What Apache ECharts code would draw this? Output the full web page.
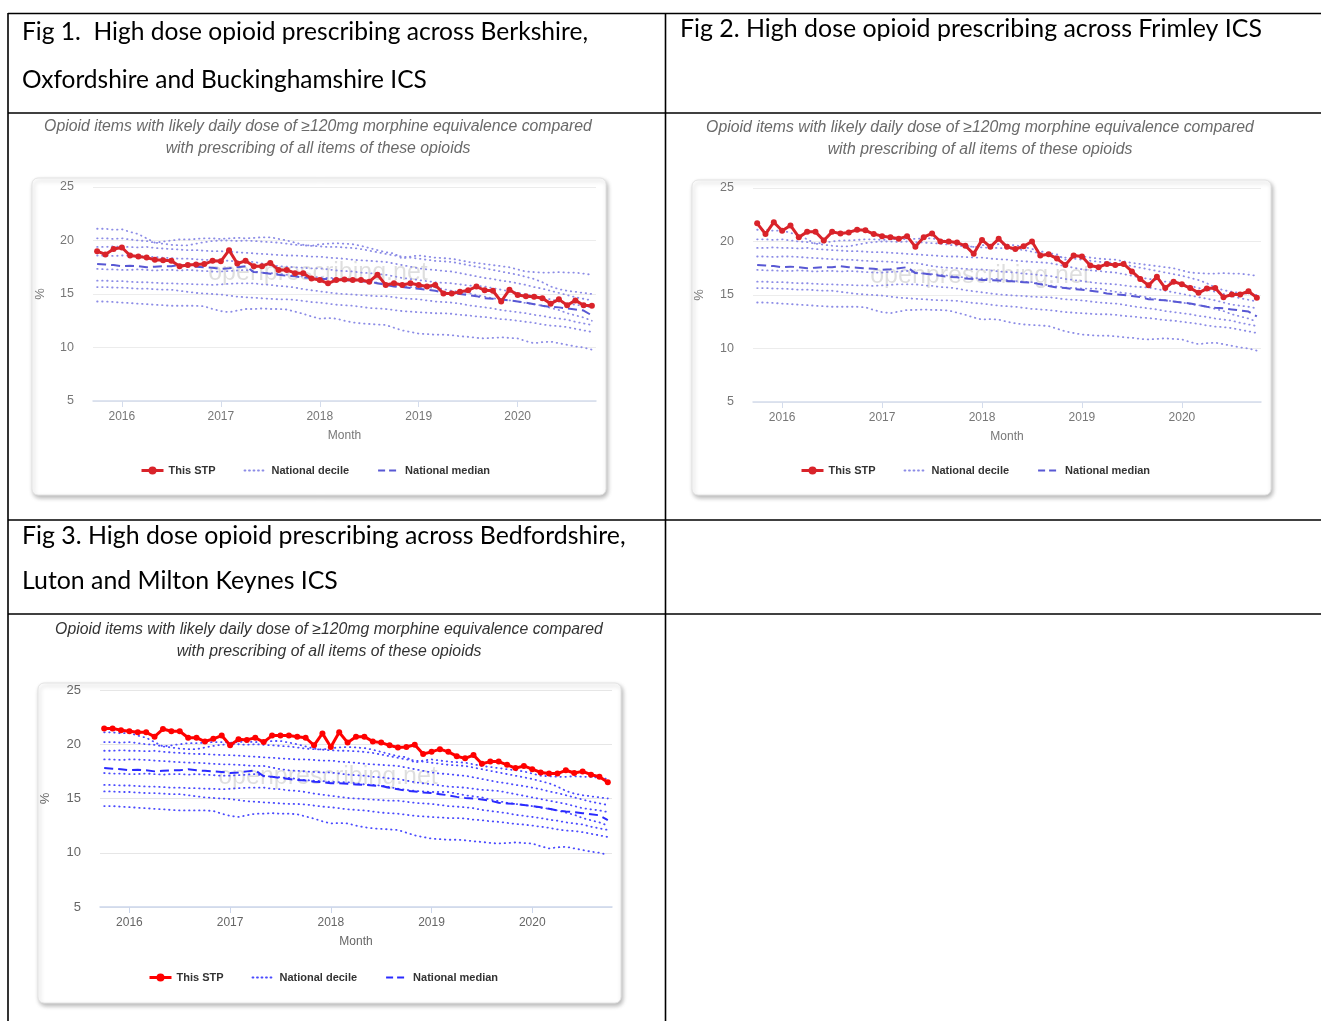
<!DOCTYPE html>
<html>
<head>
<meta charset="utf-8">
<script src="https://cdn.jsdelivr.net/npm/echarts@6/dist/echarts.min.js"></script>
<style>
html,body{margin:0;padding:0;background:#fff;}
#main{width:1321px;height:1021px;}
</style>
</head>
<body>
<div id="main"></div>
<script>
// ---------- DATA ----------
const months = ['2015-10','2015-11','2015-12',
'2016-01','2016-02','2016-03','2016-04','2016-05','2016-06','2016-07','2016-08','2016-09','2016-10','2016-11','2016-12',
'2017-01','2017-02','2017-03','2017-04','2017-05','2017-06','2017-07','2017-08','2017-09','2017-10','2017-11','2017-12',
'2018-01','2018-02','2018-03','2018-04','2018-05','2018-06','2018-07','2018-08','2018-09','2018-10','2018-11','2018-12',
'2019-01','2019-02','2019-03','2019-04','2019-05','2019-06','2019-07','2019-08','2019-09','2019-10','2019-11','2019-12',
'2020-01','2020-02','2020-03','2020-04','2020-05','2020-06','2020-07','2020-08','2020-09','2020-10'];
const yearLabels = ['2016','2017','2018','2019','2020'];

// This STP (% of opioid items at >=120mg MME)
const stpBOB = [19.0,18.7,19.2,19.35,18.6,18.5,18.4,18.2,18.15,18.1,17.6,17.7,17.75,17.8,18.1,18.05,19.1,17.85,18.1,17.6,17.6,17.9,17.25,17.25,16.95,16.95,16.45,16.3,16.0,16.3,16.35,16.3,16.3,16.15,16.8,15.85,16.0,15.85,16.0,15.85,15.7,15.85,15.05,15.05,15.2,15.35,15.7,15.35,15.3,14.3,15.4,14.9,14.8,14.75,14.6,14.1,14.5,13.95,14.4,13.95,13.9];
const stpFrimley = [21.7,20.7,21.8,21.0,21.5,20.4,20.9,20.9,20.1,20.9,20.75,20.85,21.1,21.05,20.7,20.5,20.4,20.25,20.5,19.5,20.4,20.75,20.0,20.0,19.9,19.6,18.85,20.15,19.5,20.25,19.5,19.3,19.55,20.0,18.7,18.8,18.4,17.8,18.7,18.6,17.75,17.6,17.9,17.8,17.9,17.2,16.5,15.9,16.7,15.65,16.25,16.0,15.65,15.2,15.6,15.65,14.8,15.05,15.05,15.35,14.75];
const stpBLMK = [21.46,21.46,21.3,21.2,21.1,21.1,20.7,21.4,21.2,21.2,20.6,20.6,20.25,20.5,20.8,19.9,20.45,20.4,20.6,20.2,20.8,20.8,20.8,20.7,20.6,19.9,21.0,19.75,21.1,20.15,20.7,20.7,20.25,20.15,19.9,19.7,19.75,19.95,19.1,19.3,19.55,19.3,18.9,18.7,19.0,18.2,18.4,18.4,18.1,17.8,18.0,17.7,17.4,17.3,17.3,17.6,17.35,17.5,17.2,17.0,16.5];

// National deciles and median
const nationalMedian = [17.8,17.75,17.7,17.6,17.65,17.6,17.5,17.55,17.6,17.6,17.7,17.6,17.55,17.5,17.45,17.35,17.4,17.5,17.6,17.05,17.0,16.9,16.8,16.7,16.65,16.55,16.5,16.4,16.4,16.35,16.3,16.25,16.2,16.15,16.0,15.85,15.7,15.65,15.55,15.5,15.4,15.3,15.15,15.05,15.0,14.9,14.8,14.6,14.55,14.5,14.4,14.3,14.2,14.05,13.9,13.8,13.75,13.65,13.55,13.45,13.0];
const decile90 = [21.1,21.1,21.0,21.05,20.8,20.6,20.2,19.8,19.9,20.0,20.1,20.1,20.15,20.2,20.2,20.15,20.2,20.25,20.2,20.25,20.3,20.3,20.15,20.0,19.8,19.6,19.5,19.65,19.7,19.75,19.7,19.65,19.5,19.3,19.1,18.9,18.8,18.3,18.5,18.6,18.5,18.4,18.35,18.3,18.15,18.0,17.9,17.8,17.7,17.6,17.5,17.3,17.1,17.05,17.0,17.0,17.05,17.0,17.0,16.9,16.8];
const decile80 = [20.2,20.2,20.15,20.2,20.1,20.0,19.95,19.8,19.7,19.6,19.55,19.55,19.7,19.85,19.95,20.0,20.0,19.95,20.0,19.95,19.9,19.85,19.8,19.7,19.6,19.55,19.5,19.45,19.4,19.4,19.35,19.3,19.2,19.05,18.9,18.75,18.6,18.5,18.4,18.3,18.2,18.1,18.05,18.0,17.85,17.7,17.55,17.4,17.25,17.1,16.95,16.8,16.6,16.4,16.1,15.7,15.45,15.3,15.2,15.1,15.0];
const decile70 = [19.4,19.4,19.45,19.4,19.4,19.35,19.4,19.3,19.25,19.2,19.15,19.1,19.1,19.05,19.0,19.0,18.95,18.9,18.85,18.8,18.75,18.7,18.65,18.6,18.6,18.55,18.5,18.5,18.4,18.35,18.3,18.2,18.15,18.1,18.05,18.0,17.85,17.7,17.55,17.4,17.3,17.25,17.15,17.1,16.95,16.8,16.65,16.5,16.4,16.25,16.15,16.0,15.85,15.65,15.5,15.3,15.1,14.9,14.7,14.55,14.4];
const decile60 = [18.6,18.6,18.55,18.6,18.6,18.55,18.5,18.45,18.4,18.35,18.3,18.3,18.25,18.2,18.15,18.15,18.1,18.05,18.0,18.0,17.85,17.7,17.6,17.55,17.5,17.45,17.4,17.4,17.3,17.2,17.15,17.1,17.0,16.95,16.85,16.8,16.65,16.5,16.4,16.3,16.2,16.1,16.05,16.0,15.9,15.8,15.75,15.7,15.55,15.4,15.25,15.1,14.95,14.8,14.65,14.5,14.3,14.1,14.0,13.9,13.75];
const decile40 = [17.35,17.3,17.3,17.25,17.25,17.3,17.25,17.2,17.25,17.25,17.2,17.25,17.2,17.15,17.1,17.1,17.15,17.2,17.25,17.1,17.0,16.95,16.9,16.8,16.7,16.65,16.6,16.55,16.5,16.5,16.4,16.3,16.25,16.2,16.05,15.9,15.8,15.7,15.65,15.6,15.6,15.6,15.45,15.3,15.2,15.1,14.9,14.75,14.6,14.5,14.4,14.3,14.15,14.05,13.9,13.7,13.5,13.2,13.0,12.8,12.5];
const decile30 = [16.25,16.25,16.2,16.2,16.15,16.1,16.1,16.05,16.0,16.0,15.95,15.95,15.9,15.9,15.85,15.9,15.95,16.0,16.0,16.0,15.9,15.85,15.75,15.7,15.6,15.45,15.35,15.25,15.15,15.05,15.0,14.95,14.9,14.85,14.8,14.8,14.7,14.6,14.55,14.5,14.4,14.3,14.25,14.2,14.1,13.95,13.85,13.75,13.65,13.5,13.4,13.3,13.2,13.05,12.95,12.8,12.7,12.6,12.4,12.25,12.1];
const decile20 = [15.65,15.65,15.6,15.6,15.55,15.5,15.5,15.45,15.4,15.4,15.3,15.2,15.1,15.05,15.0,14.95,14.85,14.75,14.7,14.65,14.6,14.55,14.5,14.5,14.45,14.35,14.25,14.2,14.1,14.0,13.95,13.9,13.8,13.7,13.65,13.6,13.5,13.4,13.35,13.3,13.25,13.2,13.2,13.15,13.05,13.0,12.9,12.85,12.75,12.65,12.6,12.5,12.4,12.3,12.15,12.05,12.0,11.9,11.75,11.6,11.45];
const decile10 = [14.3,14.3,14.25,14.2,14.15,14.1,14.05,14.0,13.95,13.9,13.9,13.9,13.9,13.85,13.6,13.4,13.3,13.45,13.6,13.6,13.65,13.6,13.6,13.55,13.35,13.15,12.9,12.7,12.75,12.7,12.5,12.35,12.25,12.2,12.15,12.1,11.85,11.6,11.45,11.3,11.25,11.2,11.2,11.15,11.05,11.0,10.9,10.85,10.9,10.95,10.9,10.85,10.6,10.4,10.5,10.55,10.4,10.25,10.1,10.0,9.8];
const deciles = [decile10, decile20, decile30, decile40, decile60, decile70, decile80, decile90];

// Texts
const headerFig1a = 'Fig 1.  High dose opioid prescribing across Berkshire,';
const headerFig1b = 'Oxfordshire and Buckinghamshire ICS';
const headerFig2 = 'Fig 2. High dose opioid prescribing across Frimley ICS';
const headerFig3a = 'Fig 3. High dose opioid prescribing across Bedfordshire,';
const headerFig3b = 'Luton and Milton Keynes ICS';
const chartTitle = 'Opioid items with likely daily dose of \u2265120mg morphine equivalence compared\nwith prescribing of all items of these opioids';
const legendNames = ['This STP', 'National decile', 'National median'];
const watermark = 'openprescribing.net';

// ---------- STYLE / LAYOUT ----------
const FONT = '"Liberation Sans", Arial, sans-serif';
const HFONT = 'Lato, "Open Sans", sans-serif';
const W = 1321, H = 1021;
const CLEAR = 'rgba(0,0,0,0)';

function fitSize(text, target) {
  const c = document.createElement('canvas').getContext('2d');
  c.font = 'normal 100px ' + HFONT;
  return 100 * target / c.measureText(text).width;
}

const charts = [
  { stp: stpBOB, grid: {left: 93, right: W - 596, top: 187, bottom: H - 401},
    titleX: 318, titleY: 115, titleColor: '#6a6a6a',
    legendLeft: 140, legendTop: 465,
    red: '#d9232a', dot: '#8c8ce6', dash: '#5858d4', label: '#777', grid_c: '#ececec', axis_c: '#d4dcec',
    wmX: 318, wmY: 273, nameGapY: 46, labelSize: 12.5 },
  { stp: stpFrimley, grid: {left: 753, right: W - 1261, top: 188, bottom: H - 402},
    titleX: 980, titleY: 116, titleColor: '#6a6a6a',
    legendLeft: 800, legendTop: 465,
    red: '#d9232a', dot: '#8c8ce6', dash: '#5858d4', label: '#777', grid_c: '#ececec', axis_c: '#d4dcec',
    wmX: 980, wmY: 276, nameGapY: 47, labelSize: 12.5 },
  { stp: stpBLMK, grid: {left: 100, right: W - 612, top: 690, bottom: H - 907},
    titleX: 329, titleY: 618, titleColor: '#333',
    legendLeft: 148, legendTop: 972,
    red: '#ff0000', dot: '#4a4aff', dash: '#2a2aff', label: '#666', grid_c: '#e6e6e6', axis_c: '#ccd6eb',
    wmX: 328, wmY: 777, nameGapY: 48, labelSize: 13 }
];

const isJan = (i, v) => v.slice(5) === '01' && yearLabels.includes(v.slice(0, 4));

const option = {
  animation: false,
  backgroundColor: '#fff',
  textStyle: {fontFamily: FONT},
  title: charts.map(c => ({
    text: chartTitle, left: c.titleX, top: c.titleY, textAlign: 'center', padding: 0,
    textStyle: {fontFamily: FONT, fontStyle: 'italic', fontWeight: 'normal', fontSize: 15.8, lineHeight: 22.5, color: c.titleColor}
  })),
  grid: charts.map(c => Object.assign({outerBoundsMode: 'none', containLabel: false}, c.grid)),
  xAxis: charts.map((c, k) => ({
    type: 'category', gridIndex: k, data: months, boundaryGap: true,
    name: 'Month', nameLocation: 'middle', nameGap: 29,
    nameTextStyle: {color: c.label, fontSize: 12, fontFamily: FONT},
    axisLine: {show: true, lineStyle: {color: c.axis_c, width: 1.5}},
    axisTick: {show: true, alignWithLabel: true, interval: isJan, length: 6, lineStyle: {color: c.axis_c}},
    axisLabel: {interval: isJan, formatter: v => v.slice(0, 4), color: c.label, fontSize: 12, margin: 10, fontFamily: FONT},
    splitLine: {show: false}
  })),
  yAxis: charts.map((c, k) => ({
    type: 'value', gridIndex: k, min: 5, max: 25, interval: 5,
    name: '%', nameLocation: 'middle', nameGap: c.nameGapY, nameRotate: 90,
    nameTextStyle: {color: c.label, fontSize: 13, fontFamily: FONT},
    axisLine: {show: false}, axisTick: {show: false},
    axisLabel: {color: c.label, fontSize: c.labelSize, margin: 19, fontFamily: FONT},
    splitLine: {show: true, lineStyle: {color: c.grid_c, width: 1}}
  })),
  legend: charts.map(c => ({
    left: c.legendLeft, top: c.legendTop, itemWidth: 22, itemHeight: 10, itemGap: 28, padding: 0,
    textStyle: {color: '#333', fontSize: 11, fontWeight: 'bold', fontFamily: FONT},
    data: [
      {name: legendNames[0], itemStyle: {color: c.red}, lineStyle: {color: c.red, width: 3}},
      {name: legendNames[1], itemStyle: {color: CLEAR, borderWidth: 0}, lineStyle: {color: c.dot, width: 1.8, type: [1, 3.5], cap: 'round'}},
      {name: legendNames[2], itemStyle: {color: CLEAR, borderWidth: 0}, lineStyle: {color: c.dash, width: 2, type: [7, 4]}}
    ]
  })),
  series: [],
  graphic: {elements: []}
};

charts.forEach((c, k) => {
  deciles.forEach(d => option.series.push({
    type: 'line', name: legendNames[1], xAxisIndex: k, yAxisIndex: k, data: d,
    symbol: 'none', silent: true, z: 2,
    lineStyle: {color: c.dot, width: 1.8, type: [0.5, 4.5], cap: 'round'}, itemStyle: {color: c.dot}
  }));
  option.series.push({
    type: 'line', name: legendNames[2], xAxisIndex: k, yAxisIndex: k, data: nationalMedian,
    symbol: 'none', silent: true, z: 3,
    lineStyle: {color: c.dash, width: 2, type: [9, 5]}, itemStyle: {color: c.dash}
  });
  option.series.push({
    type: 'line', name: legendNames[0], xAxisIndex: k, yAxisIndex: k, data: c.stp,
    symbol: 'circle', symbolSize: 6, showSymbol: true, showAllSymbol: true, z: 4,
    lineStyle: {color: c.red, width: 3}, itemStyle: {color: c.red}
  });
});

// chart cards
const cards = [
  {x: 32, y: 178, width: 574, height: 317},
  {x: 692, y: 180, width: 579, height: 315},
  {x: 38, y: 683, width: 583, height: 320}
];
cards.forEach(r => option.graphic.elements.push({
  type: 'rect', z: -10, silent: true,
  shape: Object.assign({r: 6}, r),
  style: {fill: '#fff', stroke: '#e4e4e4', lineWidth: 1, shadowBlur: 4, shadowOffsetX: 1.5, shadowOffsetY: 2.5, shadowColor: 'rgba(0,0,0,0.28)'}
}));
// watermarks
charts.forEach(c => option.graphic.elements.push({
  type: 'text', z: -5, silent: true, x: c.wmX, y: c.wmY,
  style: {text: watermark, font: '25px ' + FONT, fill: 'rgba(0,0,0,0.13)', align: 'center', verticalAlign: 'middle'}
}));
// headers
const headers = [
  {t: headerFig1a, x: 22, y: 32, w: 566},
  {t: headerFig1b, x: 22, y: 80, w: 405},
  {t: headerFig2, x: 680, y: 29, w: 582},
  {t: headerFig3a, x: 22, y: 536, w: 604},
  {t: headerFig3b, x: 22, y: 581, w: 316}
];
headers.forEach(h => option.graphic.elements.push({
  type: 'text', z: 50, silent: true, x: h.x, y: h.y,
  style: {text: h.t, font: fitSize(h.t, h.w).toFixed(2) + 'px ' + HFONT, fill: '#000', align: 'left', verticalAlign: 'middle'}
}));
// table rules
const rules = [
  [8, 13.5, W, 13.5], [8, 113, W, 113], [8, 520, W, 520], [8, 614, W, 614],
  [8, 13, 8, H], [665.5, 13, 665.5, H]
];
rules.forEach(l => option.graphic.elements.push({
  type: 'line', z: 60, silent: true,
  shape: {x1: l[0], y1: l[1], x2: l[2], y2: l[3]},
  style: {stroke: '#000', lineWidth: 1.6}
}));

const chart = echarts.init(document.getElementById('main'));
chart.setOption(option);
</script>
</body>
</html>
